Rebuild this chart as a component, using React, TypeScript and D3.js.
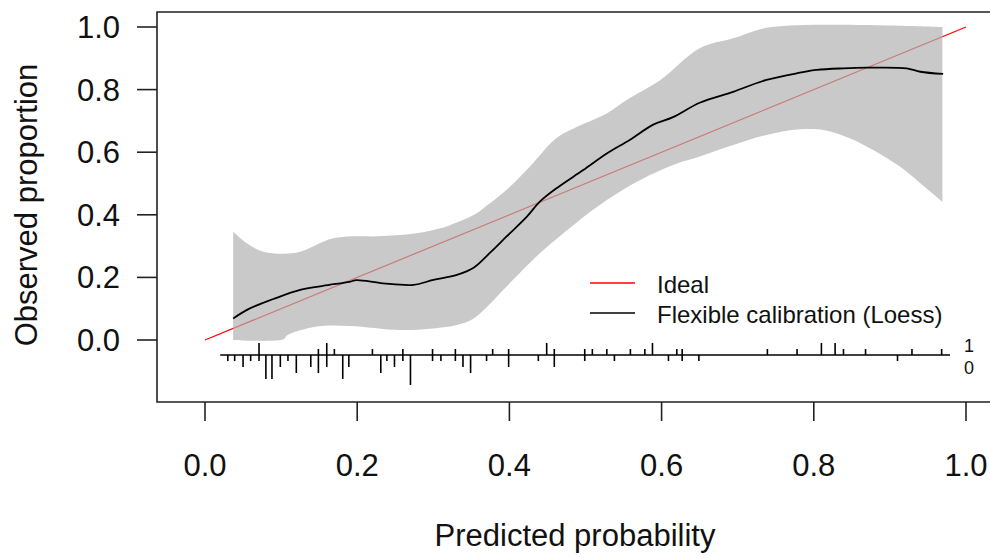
import React from 'react';
import * as d3 from 'd3';

// ---------- data ----------
const xTicks = [0, 0.2, 0.4, 0.6, 0.8, 1.0];
const yTicks = [0, 0.2, 0.4, 0.6, 0.8, 1.0];

// flexible calibration (loess) curve
const calX = [0.037, 0.059, 0.09, 0.125, 0.155, 0.19, 0.199, 0.234, 0.274, 0.30, 0.331, 0.353, 0.375, 0.396, 0.423, 0.44, 0.462, 0.497, 0.528, 0.558, 0.589, 0.615, 0.65, 0.694, 0.738, 0.782, 0.804, 0.839, 0.87, 0.922, 0.94, 0.97];
const calY = [0.069, 0.101, 0.131, 0.16, 0.173, 0.186, 0.191, 0.181, 0.176, 0.192, 0.208, 0.231, 0.28, 0.33, 0.394, 0.442, 0.485, 0.543, 0.596, 0.639, 0.688, 0.712, 0.758, 0.793, 0.831, 0.854, 0.863, 0.868, 0.87, 0.868, 0.857, 0.85];

// confidence band
const upperX = [0.037, 0.055, 0.077, 0.12, 0.169, 0.234, 0.278, 0.309, 0.322, 0.353, 0.366, 0.396, 0.431, 0.462, 0.497, 0.528, 0.554, 0.598, 0.65, 0.694, 0.745, 0.969];
const upperY = [0.346, 0.309, 0.282, 0.279, 0.325, 0.332, 0.341, 0.357, 0.367, 0.399, 0.421, 0.479, 0.565, 0.645, 0.69, 0.724, 0.767, 0.83, 0.932, 0.964, 1.0, 1.0];
const lowerX = [0.037, 0.103, 0.108, 0.147, 0.19, 0.256, 0.30, 0.331, 0.353, 0.375, 0.396, 0.44, 0.484, 0.528, 0.572, 0.615, 0.65, 0.694, 0.738, 0.782, 0.813, 0.848, 0.878, 0.913, 0.94, 0.969];
const lowerY = [0.0, 0.002, 0.015, 0.043, 0.045, 0.032, 0.037, 0.048, 0.069, 0.117, 0.17, 0.277, 0.367, 0.447, 0.511, 0.559, 0.586, 0.623, 0.655, 0.673, 0.671, 0.644, 0.607, 0.554, 0.501, 0.442];

// rug: predicted probability bins with counts of outcome 1 (up) and 0 (down)
const rugP = [0.030, 0.039, 0.050, 0.060, 0.071, 0.080, 0.088, 0.099, 0.109, 0.120, 0.139, 0.149, 0.160, 0.170, 0.181, 0.189, 0.220, 0.231, 0.239, 0.249, 0.260, 0.270, 0.299, 0.310, 0.329, 0.339, 0.349, 0.370, 0.378, 0.399, 0.438, 0.449, 0.459, 0.499, 0.509, 0.528, 0.538, 0.559, 0.578, 0.588, 0.609, 0.620, 0.627, 0.649, 0.739, 0.778, 0.810, 0.828, 0.839, 0.868, 0.910, 0.929, 0.968];
const rugOnes = [0, 0, 0, 0, 2, 0, 0, 0, 0, 0, 0, 1, 2, 1, 0, 0, 1, 0, 0, 0, 1, 0, 1, 0, 1, 0, 0, 0, 1, 1, 0, 2, 1, 1, 1, 1, 0, 1, 1, 2, 0, 1, 1, 0, 1, 1, 2, 2, 1, 1, 0, 1, 1];
const rugZeros = [1, 1, 2, 1, 1, 4, 4, 2, 1, 3, 2, 3, 2, 0, 4, 2, 0, 3, 1, 2, 1, 5, 1, 1, 1, 2, 3, 1, 0, 2, 1, 0, 2, 1, 0, 0, 1, 0, 0, 0, 1, 0, 1, 1, 0, 0, 0, 0, 0, 0, 1, 0, 0];
const rugRange = [0.02, 0.979];
const rugLabels = ['1', '0'];

const legendLabels = ['Ideal', 'Flexible calibration (Loess)'];
const xTitle = 'Predicted probability';
const yTitle = 'Observed proportion';

// ---------- layout ----------
const W = 990;
const H = 558;
const FONT = "'Liberation Sans', Arial, sans-serif";
const AXIS_FS = 31;
const box = { left: 157, top: 12, right: 1000, bottom: 402 };
const rugBase = 355;
const rugUnit = 6;

export default function App() {
  const x = d3.scaleLinear().domain([0, 1]).range([205, 966]);
  const y = d3.scaleLinear().domain([0, 1]).range([340, 27]);

  const curve = d3.curveCatmullRom.alpha(0.5);
  const lineGen = d3.line<[number, number]>().x(d => x(d[0])).y(d => y(d[1])).curve(curve);

  const calPts: [number, number][] = calX.map((v, i) => [v, calY[i]]);
  const upPts: [number, number][] = upperX.map((v, i) => [v, upperY[i]]);
  const loPts: [number, number][] = lowerX.map((v, i) => [v, lowerY[i]]).reverse() as [number, number][];
  const upPath = lineGen(upPts) || '';
  const loPath = (lineGen(loPts) || '').replace(/^M/, 'L');
  const bandPath = upPath + loPath + 'Z';

  return (
    <svg width={W} height={H} style={{ position: 'absolute', left: 0, top: 0, background: '#fff' }} fontFamily={FONT}>
      <rect x={0} y={0} width={W} height={H} fill="#fff" />
      {/* ideal line */}
      <line x1={x(0)} y1={y(0)} x2={x(1)} y2={y(1)} stroke="#ff0000" strokeWidth={1.2} />
      {/* confidence band */}
      <path d={bandPath} fill="rgb(177,177,177)" fillOpacity={177 / 255} stroke="none" />
      {/* loess curve */}
      <path d={lineGen(calPts) || ''} fill="none" stroke="#000" strokeWidth={1.8} />

      {/* rug */}
      <line x1={x(rugRange[0])} x2={x(rugRange[1])} y1={rugBase} y2={rugBase} stroke="#000" strokeWidth={1.6} />
      {rugP.map((p, i) => (
        <g key={'r' + i}>
          {rugOnes[i] > 0 && (
            <line x1={x(p)} x2={x(p)} y1={rugBase} y2={rugBase - rugOnes[i] * rugUnit} stroke="#000" strokeWidth={1.6} />
          )}
          {rugZeros[i] > 0 && (
            <line x1={x(p)} x2={x(p)} y1={rugBase} y2={rugBase + rugZeros[i] * rugUnit} stroke="#000" strokeWidth={1.6} />
          )}
        </g>
      ))}
      <text x={969} y={352} fontSize={18} textAnchor="middle" fill="#111">{rugLabels[0]}</text>
      <text x={969} y={374} fontSize={18} textAnchor="middle" fill="#111">{rugLabels[1]}</text>

      {/* legend */}
      <line x1={590} x2={635} y1={283} y2={283} stroke="#ff0000" strokeWidth={1.5} />
      <text x={657} y={293} fontSize={24} fill="#111">{legendLabels[0]}</text>
      <line x1={590} x2={635} y1={313} y2={313} stroke="#000" strokeWidth={1.5} />
      <text x={657} y={323} fontSize={24} fill="#111">{legendLabels[1]}</text>

      {/* box */}
      <path d={`M${box.right},${box.top}H${box.left}V${box.bottom}H${box.right}`} fill="none" stroke="#222" strokeWidth={1.6} />

      {/* y axis */}
      {yTicks.map(t => (
        <g key={'y' + t}>
          <line x1={137} x2={box.left} y1={y(t)} y2={y(t)} stroke="#222" strokeWidth={1.6} />
          <text x={120} y={y(t) + 11} fontSize={AXIS_FS} textAnchor="end" fill="#111">{t.toFixed(1)}</text>
        </g>
      ))}
      {/* x axis */}
      {xTicks.map(t => (
        <g key={'x' + t}>
          <line x1={x(t)} x2={x(t)} y1={box.bottom} y2={421} stroke="#222" strokeWidth={1.6} />
          <text x={x(t)} y={476} fontSize={AXIS_FS} textAnchor="middle" fill="#111">{t.toFixed(1)}</text>
        </g>
      ))}

      <text x={575} y={546} fontSize={AXIS_FS} textAnchor="middle" fill="#111">{xTitle}</text>
      <text transform={`translate(37,205) rotate(-90)`} fontSize={AXIS_FS} textAnchor="middle" fill="#111">{yTitle}</text>
    </svg>
  );
}
